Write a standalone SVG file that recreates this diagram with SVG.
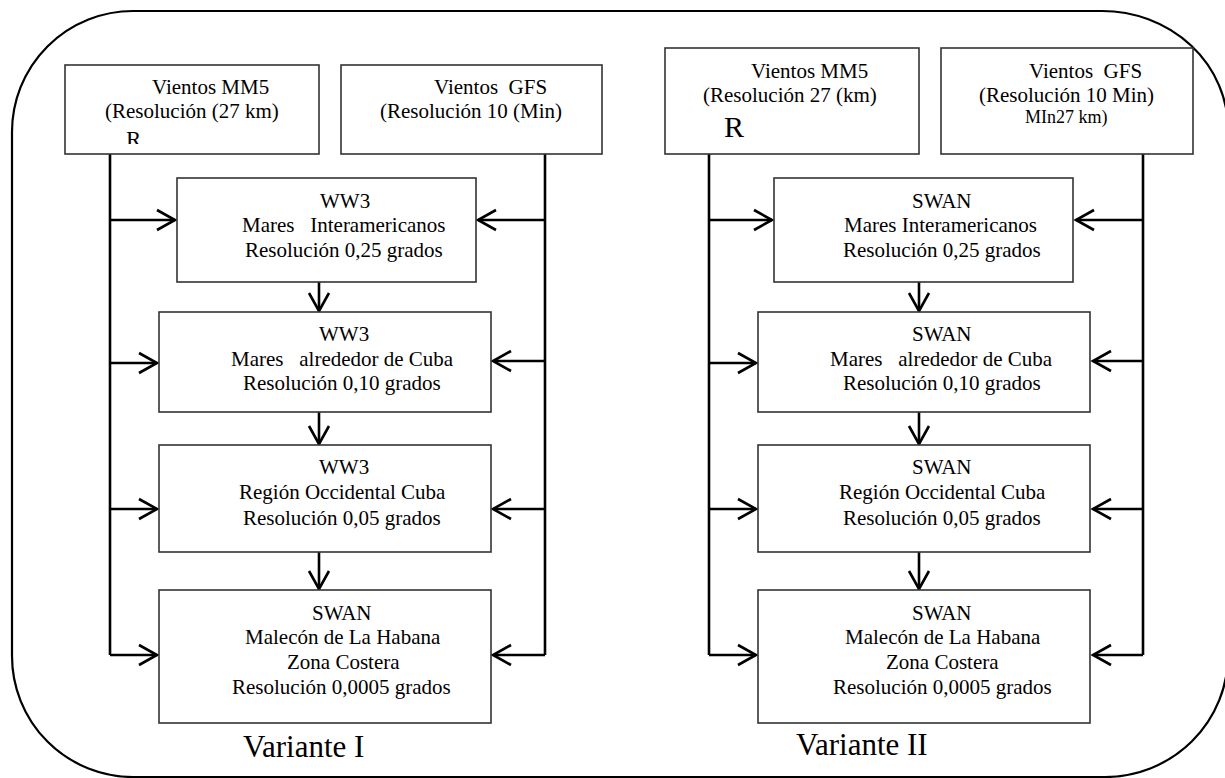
<svg xmlns="http://www.w3.org/2000/svg" width="1225" height="778" viewBox="0 0 1225 778">
<style>
text{font-family:"Liberation Serif","Times New Roman",serif;font-size:21px;fill:#000;white-space:pre}
.box{fill:#fff;stroke:#333;stroke-width:1.6}
.con{fill:none;stroke:#000;stroke-width:2.6;marker-end:url(#ah)}
.lin{fill:none;stroke:#000;stroke-width:2.6}
.frame{fill:none;stroke:#000;stroke-width:2.2}
.big{font-size:31px}
</style>
<defs>
<marker id="ah" viewBox="0 0 24 24" refX="20" refY="12" markerWidth="24" markerHeight="24" markerUnits="userSpaceOnUse" orient="auto">
<path d="M2,2 L20,12 L2,22" fill="none" stroke="#000" stroke-width="2.6"/>
</marker>
<clipPath id="clipR"><rect x="65" y="65" width="254" height="79"/></clipPath>
</defs>
<rect width="1225" height="778" fill="#fff"/>
<path class="frame" d="M133,11 H1102 A126,118 0 0 1 1228,129 V655 A123,122 0 0 1 1105,777 H133 A121,121 0 0 1 12,656 V132 A121,121 0 0 1 133,11 Z"/>

<g id="connectors">
<!-- Variante I -->
<path class="lin" d="M110,154 V655"/>
<path class="con" d="M110,220 H175"/>
<path class="con" d="M110,363 H157"/>
<path class="con" d="M110,509 H157"/>
<path class="con" d="M110,655 H157"/>
<path class="lin" d="M545,154 V655"/>
<path class="con" d="M545,220 H478"/>
<path class="con" d="M545,361 H493"/>
<path class="con" d="M545,509 H493"/>
<path class="con" d="M545,655 H493"/>
<path class="con" d="M319,282 V311"/>
<path class="con" d="M319,412 V444"/>
<path class="con" d="M319,552 V589"/>
<!-- Variante II -->
<path class="lin" d="M709,154 V655"/>
<path class="con" d="M709,220 H772"/>
<path class="con" d="M709,363 H756"/>
<path class="con" d="M709,509 H756"/>
<path class="con" d="M709,655 H756"/>
<path class="lin" d="M1143,154 V655"/>
<path class="con" d="M1143,220 H1076"/>
<path class="con" d="M1143,361 H1093"/>
<path class="con" d="M1143,509 H1093"/>
<path class="con" d="M1143,655 H1093"/>
<path class="con" d="M919,282 V311"/>
<path class="con" d="M919,412 V444"/>
<path class="con" d="M919,552 V589"/>
</g>

<g id="v1-mm5">
<rect class="box" x="65" y="65" width="254" height="89"/>
<text x="152" y="94">Vientos MM5</text>
<text x="105" y="118">(Resolución (27 km)</text>
<text x="126" y="147" clip-path="url(#clipR)" style="font-size:23px">R</text>
</g>
<g id="v1-gfs">
<rect class="box" x="341" y="65" width="261" height="89"/>
<text x="434" y="94" xml:space="preserve">Vientos  GFS</text>
<text x="380" y="118">(Resolución 10 (Min)</text>
</g>
<g id="v1-ww3-a">
<rect class="box" x="177" y="178" width="299" height="104"/>
<text x="320" y="208">WW3</text>
<text x="242" y="232" xml:space="preserve">Mares   Interamericanos</text>
<text x="245" y="257">Resolución 0,25 grados</text>
</g>
<g id="v1-ww3-b">
<rect class="box" x="159" y="312" width="332" height="100"/>
<text x="319" y="341">WW3</text>
<text x="231" y="366" xml:space="preserve">Mares   alrededor de Cuba</text>
<text x="243" y="390">Resolución 0,10 grados</text>
</g>
<g id="v1-ww3-c">
<rect class="box" x="159" y="445" width="332" height="107"/>
<text x="319" y="474">WW3</text>
<text x="239" y="499">Región Occidental Cuba</text>
<text x="243" y="525">Resolución 0,05 grados</text>
</g>
<g id="v1-swan">
<rect class="box" x="159" y="590" width="332" height="133"/>
<text x="312" y="620">SWAN</text>
<text x="245" y="644">Malecón de La Habana</text>
<text x="287" y="669">Zona Costera</text>
<text x="232" y="694">Resolución 0,0005 grados</text>
</g>
<text class="big" x="243" y="757">Variante I</text>

<g id="v2-mm5">
<rect class="box" x="665" y="48" width="254" height="106"/>
<text x="751" y="78">Vientos MM5</text>
<text x="703" y="102">(Resolución 27 (km)</text>
<text x="724" y="137" style="font-size:30px">R</text>
</g>
<g id="v2-gfs">
<rect class="box" x="941" y="48" width="252" height="106"/>
<text x="1029" y="78" xml:space="preserve">Vientos  GFS</text>
<text x="979" y="102">(Resolución 10 Min)</text>
<text x="1025" y="123" style="font-size:18px">MIn27 km)</text>
</g>
<g id="v2-swan-a">
<rect class="box" x="774" y="178" width="299" height="104"/>
<text x="912" y="208">SWAN</text>
<text x="844" y="232">Mares Interamericanos</text>
<text x="843" y="257">Resolución 0,25 grados</text>
</g>
<g id="v2-swan-b">
<rect class="box" x="758" y="312" width="332" height="100"/>
<text x="912" y="341">SWAN</text>
<text x="830" y="366" xml:space="preserve">Mares   alrededor de Cuba</text>
<text x="843" y="390">Resolución 0,10 grados</text>
</g>
<g id="v2-swan-c">
<rect class="box" x="758" y="445" width="332" height="107"/>
<text x="912" y="474">SWAN</text>
<text x="839" y="499">Región Occidental Cuba</text>
<text x="843" y="525">Resolución 0,05 grados</text>
</g>
<g id="v2-swan-d">
<rect class="box" x="758" y="590" width="332" height="133"/>
<text x="912" y="620">SWAN</text>
<text x="845" y="644">Malecón de La Habana</text>
<text x="886" y="669">Zona Costera</text>
<text x="833" y="694">Resolución 0,0005 grados</text>
</g>
<text class="big" x="796" y="755">Variante II</text>
</svg>
